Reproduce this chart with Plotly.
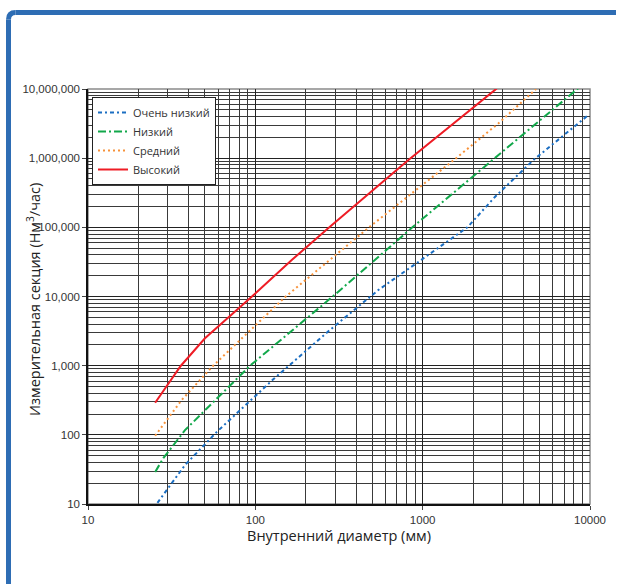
import plotly.graph_objects as go

# ---- data ----
series_names = ["Очень низкий", "Низкий", "Средний", "Высокий"]

d_very_low = [26, 38, 59, 128, 279, 543, 1000, 1850, 2710, 4590, 9780]
q_very_low = [10.4, 36.6, 111, 635, 3280, 12400, 35000, 100000, 277000, 940000, 4200000]

d_low = [25.2, 28.2, 38, 93, 290, 868, 2838, 8650]
q_low = [29, 46, 117, 1000, 10000, 100000, 1110000, 10600000]

d_medium = [25.2, 36.3, 56, 152, 470, 1585, 2838, 4764]
q_medium = [97, 319, 1000, 10000, 96800, 1000000, 3190000, 10000000]

d_high = [25.2, 35.8, 50, 92.9, 165, 279, 822, 2773]
q_high = [291, 990, 2490, 9420, 33700, 102000, 940000, 10200000]

x_tickvals = [10, 100, 1000, 10000]
x_ticktext = ["10", "100", "1000", "10000"]
y_tickvals = [10, 100, 1000, 10000, 100000, 1000000, 10000000]
y_ticktext = ["10", "100", "1,000", "10,000", "100,000", "1,000,000", "10,000,000"]

x_title = "Внутренний диаметр (мм)"
y_title = "Измерительная секция (Нм<sup>3</sup>/час)"

colors = ["#1b6ec2", "#12a84b", "#f7923a", "#ee1c25"]
dashes = ["4px,3px,2px,3px", "8px,3px,2px,3px", "2px,3px", "solid"]

# ---- figure ----
fig = go.Figure()
for name, xs, ys, c, d in zip(series_names,
                              [d_very_low, d_low, d_medium, d_high],
                              [q_very_low, q_low, q_medium, q_high],
                              colors, dashes):
    fig.add_trace(go.Scatter(x=xs, y=ys, mode="lines", name=name,
                             line=dict(color=c, width=2, dash=d)))

minor_x = [k * 10 ** n for n in range(1, 4) for k in range(2, 10)]
minor_y = [k * 10 ** n for n in range(1, 7) for k in range(2, 10)]

W, H = 618, 585
L, R, T, B = 88, 28, 89, 81
pw, ph = W - L - R, H - T - B

def px(x):
    return (x - L) / pw

def py(y):
    return (H - B - y) / ph

left, top, right, bottom = px(8.5), py(12.5), px(616), py(584)
rx, ry = 7 / pw, 7 / ph
frame = dict(color="#2e6db4", width=5)
corner_path = f"M {left},{top - ry} Q {left},{top} {left + rx},{top}"

fig.update_layout(
    width=W, height=H,
    margin=dict(l=L, r=R, t=T, b=B),
    paper_bgcolor="white", plot_bgcolor="white",
    font=dict(family="Liberation Sans", color="#333333"),
    showlegend=True,
    legend=dict(x=px(92), y=py(97), xanchor="left", yanchor="top",
                bgcolor="white", bordercolor="#222222", borderwidth=1,
                font=dict(family="Open Sans", size=11, color="#333333"),
                itemwidth=30, tracegroupgap=0),
    shapes=[
        dict(type="line", xref="paper", yref="paper",
             x0=left, x1=left, y0=bottom, y1=top - ry, line=frame, layer="above"),
        dict(type="path", xref="paper", yref="paper", path=corner_path,
             line=frame, layer="above"),
        dict(type="line", xref="paper", yref="paper",
             x0=left + rx, x1=right, y0=top, y1=top, line=frame, layer="above"),
        dict(type="rect", xref="paper", yref="paper", x0=0, x1=1, y0=0, y1=1,
             line=dict(color="#8a8a8a", width=1.5), layer="below"),
    ],
    annotations=[
        dict(text=y_title, xref="paper", yref="paper", x=px(33), y=py(300),
             xanchor="center", yanchor="middle", textangle=-90, showarrow=False,
             font=dict(family="Open Sans", size=14.5, color="#222222")),
    ],
)

fig.update_xaxes(
    type="log", range=[1, 4],
    tickmode="array", tickvals=x_tickvals, ticktext=x_ticktext,
    ticks="outside", ticklen=4, tickcolor="#444444", tickwidth=1,
    tickfont=dict(family="Liberation Sans", size=11.5, color="#333333"),
    showline=True, linecolor="#111111", linewidth=2,
    showgrid=True, gridcolor="#222222", gridwidth=1,
    minor=dict(tickmode="array", tickvals=minor_x, showgrid=True,
               gridcolor="#3a3a3a", gridwidth=1, ticks=""),
    title=dict(text=x_title, standoff=3,
               font=dict(family="Open Sans", size=14.5, color="#222222")),
    zeroline=False,
)
fig.update_yaxes(
    type="log", range=[1, 7],
    tickmode="array", tickvals=y_tickvals, ticktext=y_ticktext,
    ticks="outside", ticklen=4, tickcolor="#444444", tickwidth=1,
    tickfont=dict(family="Liberation Sans", size=11.5, color="#333333"),
    showline=True, linecolor="#111111", linewidth=1.5,
    showgrid=True, gridcolor="#222222", gridwidth=1,
    minor=dict(tickmode="array", tickvals=minor_y, showgrid=True,
               gridcolor="#3a3a3a", gridwidth=1, ticks=""),
    zeroline=False,
)

fig.write_html("out.html")
